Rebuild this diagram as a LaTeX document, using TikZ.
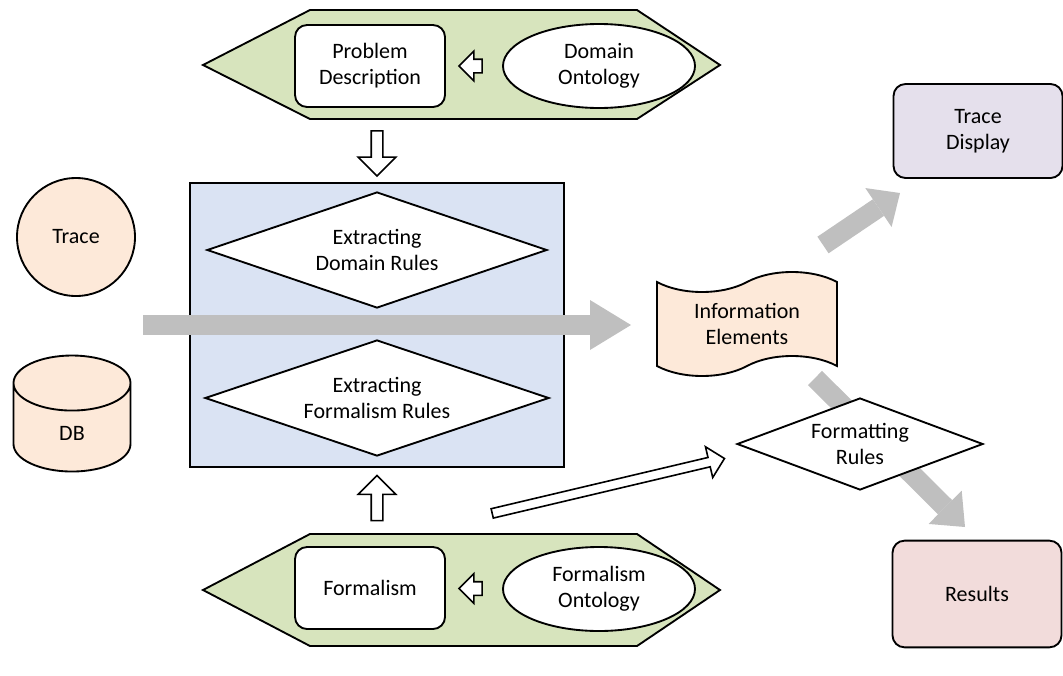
\documentclass[tikz,border=0pt]{standalone}
\usepackage{fontspec}
\setmainfont{Carlito}
\usetikzlibrary{shapes,arrows.meta,positioning,calc}

\definecolor{hexgreen}{HTML}{D7E4BD}
\definecolor{boxblue}{HTML}{DAE3F3}
\definecolor{peach}{HTML}{FDE9D9}
\definecolor{lilac}{HTML}{E5E0EC}
\definecolor{rose}{HTML}{F2DCDB}
\definecolor{flowgray}{HTML}{BFBFBF}

\begin{document}
\begin{tikzpicture}[
    x=0.75pt, y=-0.75pt,
    font=\fontsize{16.5}{19.5}\selectfont,
    outline/.style={draw, line width=1.4pt},
    band/.style={outline, fill=hexgreen},
    block/.style={
        outline,
        rectangle,
        rounded corners=9pt,
        fill=white,
        align=center,
        minimum width=112.5pt,
        minimum height=61.5pt
    },
    onto/.style={
        outline, ellipse, fill=white, align=center,
        minimum width=144pt, minimum height=63pt
    },
    rule/.style={
        outline, diamond, fill=white, align=center,
        inner sep=0pt, aspect=2.9
    },
    store/.style={outline, fill=peach, align=center},
    hollow/.style={
        single arrow, draw, fill=white, line width=1.2pt,
        inner xsep=0pt
    },
    flow/.style={
        draw=flowgray, line width=15pt,
        -{Triangle[length=30.75pt, width=37.5pt, line width=0pt]}
    }
]
    \useasboundingbox (0,0) rectangle (1063,675);

    % Domain band
    \draw [band] (203,65) -- (310,10) -- (637,10) -- (720,65) -- (637,119) -- (310,119) -- cycle;
    \coordinate (dband) at (377,119);
    \node [block] (prob) at (370,66) {Problem\\Description};
    \node [onto] (domont) at (599,66) {Domain\\Ontology};
    \node [hollow, inner ysep=4.5pt, minimum height=17.25pt,
           single arrow head extend=6pt, rotate=180] (domin) at ($(prob.east)!0.5!(domont.west)$) {};

    % Formalism band
    \draw [band] (203,590) -- (310,534) -- (637,534) -- (720,590) -- (637,646) -- (310,646) -- cycle;
    \coordinate (fband) at (377,534);
    \node [block] (form) at (370,588) {Formalism};
    \node [onto] (formont) at (599,589) {Formalism\\Ontology};
    \node [hollow, inner ysep=4.5pt, minimum height=17.25pt,
           single arrow head extend=6pt, rotate=180] (formin) at ($(form.east)!0.5!(formont.west)$) {};

    % Sources
    \node [store, circle, minimum size=88.5pt] (trace) at (76,237) {Trace};
    \node [store, cylinder, shape border rotate=90, aspect=1.6,
           minimum width=87.75pt, minimum height=87pt] (db) at (72,433) {DB};

    % Extraction
    \node [outline, fill=boxblue, minimum width=280.5pt, minimum height=213pt] (extract) at (377,325) {};
    \coordinate (src) at (143,325);
    \draw [flow] (src) -- (631,325);
    \node [rule, minimum width=255pt, minimum height=87pt] (domrules) at (377,250) {Extracting\\Domain Rules};
    \node [rule, minimum width=258pt, minimum height=87pt] (formrules) at (377,398) {Extracting\\Formalism Rules};

    \node [hollow, inner ysep=3.75pt, minimum height=33.75pt,
           single arrow head extend=9.75pt, rotate=-90] (down) at ($(dband)!0.5!(extract.north)$) {};
    \node [hollow, inner ysep=3.75pt, minimum height=33.75pt,
           single arrow head extend=9.75pt, rotate=90] (up) at ($(fband)!0.5!(extract.south)$) {};

    % Output
    \node [store, tape, tape bend height=15pt, minimum width=135pt, minimum height=78pt] (info) at (747,324) {Information\\Elements};
    \node [block, fill=lilac, minimum width=126.75pt, minimum height=70.5pt] (display) at (978,131) {Trace\\Display};
    \node [block, fill=rose, minimum width=126.75pt, minimum height=80pt] (results) at (977,594) {Results};

    \draw [flow, -{Triangle[length=19.5pt, width=35.25pt, line width=0pt]}] (823,245) -- (900,193);
    \draw [flow, -{Triangle[length=21pt, width=35.25pt, line width=0pt]}] (815,378) -- (965,527);
    \node [rule, aspect=2.67, minimum width=184.5pt, minimum height=69pt] (fmtrules) at (860,444) {Formatting\\Rules};

    \node [hollow, inner ysep=3pt, minimum height=179pt,
           single arrow head extend=8.25pt, rotate=13.3] (tofmt) at (606,486.5) {};
\end{tikzpicture}
\end{document}
